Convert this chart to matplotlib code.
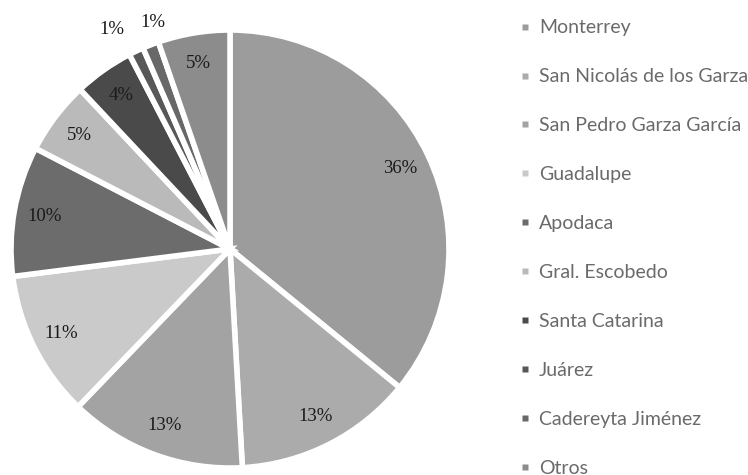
import matplotlib
matplotlib.use("Agg")
import matplotlib.pyplot as plt
from matplotlib.lines import Line2D
import numpy as np

categories = ["Monterrey", "San Nicolás de los Garza", "San Pedro Garza García",
              "Guadalupe", "Apodaca", "Gral. Escobedo", "Santa Catarina",
              "Juárez", "Cadereyta Jiménez", "Otros"]
values = [35.9, 13.2, 13.1, 10.8, 9.6, 5.4, 4.4, 1.1, 1.2, 5.3]
colors = ["#9c9c9c", "#ababab", "#a3a3a3", "#cacaca", "#6c6c6c",
          "#bababa", "#4a4a4a", "#585858", "#686868", "#8c8c8c"]

plt.rcParams['font.family'] = ['Lato', 'DejaVu Sans']

fig = plt.figure(figsize=(7.48, 4.75), dpi=100)
ax = fig.add_axes([11/748, 7/475, 438/748, 438/475])

wedges, texts, autotexts = ax.pie(
    values, colors=colors, startangle=90, counterclock=False,
    autopct='%.0f%%', pctdistance=0.86,
    wedgeprops=dict(edgecolor='white', linewidth=4),
    textprops=dict(fontsize=13.5, color='#1a1a1a',
                   family=['Liberation Serif', 'DejaVu Serif']))

small = [i for i, v in enumerate(values) if v < 2]
for k, i in enumerate(small):
    w, t = wedges[i], autotexts[i]
    ang = np.deg2rad((w.theta1 + w.theta2) / 2)
    t.set_position((1.13 * np.cos(ang), 1.11 * np.sin(ang)))
    t.set_ha('right' if k == 0 else 'left')

ax.set_xlim(-1, 1)
ax.set_ylim(-1, 1)
ax.set_aspect('equal')
ax.axis('off')

handles = [Line2D([], [], linestyle='none', marker='s', markersize=3.8,
                  markerfacecolor=c, markeredgecolor='none') for c in colors]
fig.legend(handles, categories, loc='upper left',
           bbox_to_anchor=(505/748, 1 - 2/475), frameon=False,
           fontsize=14, handlelength=0.3, handletextpad=0.55,
           labelspacing=1.64, labelcolor='#6a6a6a')

fig.savefig("out.png", dpi=100)
